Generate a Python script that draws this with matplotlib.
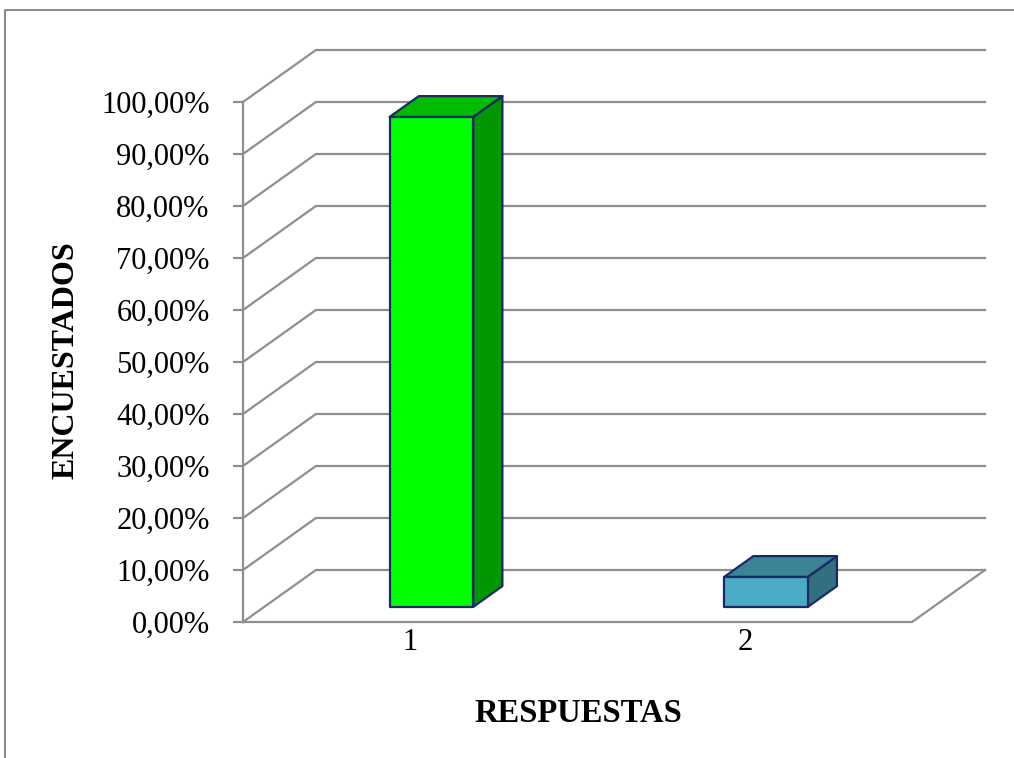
import numpy as np
import matplotlib.pyplot as plt
from matplotlib.patches import Polygon
from matplotlib.lines import Line2D

plt.rcParams['font.family'] = ['Liberation Serif', 'DejaVu Serif']

# Survey answers and share of respondents (%)
categories = ['1', '2']
percentages = [94.23, 5.77]
y_ticks = np.arange(0, 101, 10)
y_tick_labels = [f'{v:.2f}'.replace('.', ',') + '%' for v in y_ticks]

face_colors = ['#00FF00', '#4BACC6']
top_colors = ['#00BB00', '#3A8496']
side_colors = ['#009700', '#32707F']
edge_color = '#1B2A66'
grid_color = '#8F8F8F'

# offset of the back wall (category units, percent) used for the 3D look
depth_x, depth_y = 0.218, 10.0
bar_width = 0.25
bar_front, bar_back = 0.29, 0.69

n = len(categories)
fig = plt.figure(figsize=(10.14, 7.58), dpi=100)
ax = fig.add_axes([243 / 1014, 1 - 622 / 758, 742 / 1014, 572 / 758])
ax.set_xlim(0, n + depth_x)
ax.set_ylim(0, 100 + depth_y)

# side wall diagonals + back wall gridlines
for v in y_ticks:
    ax.plot([0, depth_x, n + depth_x], [v, v + depth_y, v + depth_y],
            color=grid_color, lw=1.6, zorder=1, clip_on=False)
# floor outline
ax.plot([0, n, n + depth_x], [0, 0, depth_y], color=grid_color, lw=1.6,
        zorder=1, clip_on=False)

# boxes
ddx = (bar_back - bar_front) * depth_x
ddy = (bar_back - bar_front) * depth_y
for i, v in enumerate(percentages):
    x0 = i + 0.5 - bar_width / 2 + bar_front * depth_x
    y0 = bar_front * depth_y
    x1 = x0 + bar_width
    front = [(x0, y0), (x1, y0), (x1, y0 + v), (x0, y0 + v)]
    top = [(x0, y0 + v), (x1, y0 + v), (x1 + ddx, y0 + v + ddy), (x0 + ddx, y0 + v + ddy)]
    side = [(x1, y0), (x1 + ddx, y0 + ddy), (x1 + ddx, y0 + v + ddy), (x1, y0 + v)]
    for pts, col in [(side, side_colors[i]), (top, top_colors[i]), (front, face_colors[i])]:
        ax.add_patch(Polygon(pts, closed=True, facecolor=col, edgecolor=edge_color,
                             lw=1.6, joinstyle='round', zorder=3, clip_on=False))

for name in ['top', 'right', 'bottom']:
    ax.spines[name].set_visible(False)
ax.spines['left'].set_bounds(0, 100)
ax.spines['left'].set_color(grid_color)
ax.spines['left'].set_linewidth(1.6)
ax.spines['left'].set_zorder(2)

ax.set_yticks(y_ticks)
ax.set_yticklabels(y_tick_labels)
ax.tick_params(axis='y', length=7, width=1.6, color=grid_color, pad=17, labelsize=22)
ax.set_xticks(np.arange(n) + 0.5)
ax.set_xticklabels(categories)
ax.tick_params(axis='x', length=0, pad=4, labelsize=22)

fig.text(66 / 1014, 1 - 360 / 758, 'ENCUESTADOS', rotation=90, ha='center', va='center',
         fontsize=23, fontweight='bold')
fig.text(578 / 1014, 1 - 713 / 758, 'RESPUESTAS', ha='center', va='center',
         fontsize=23.5, fontweight='bold')

# chart area frame
fig.add_artist(Line2D([5 / 1014, 5 / 1014, 1.01], [-0.01, 1 - 10 / 758, 1 - 10 / 758],
                      transform=fig.transFigure, color='#8C8C8C', lw=1.5))

fig.savefig('out.png', dpi=100)
